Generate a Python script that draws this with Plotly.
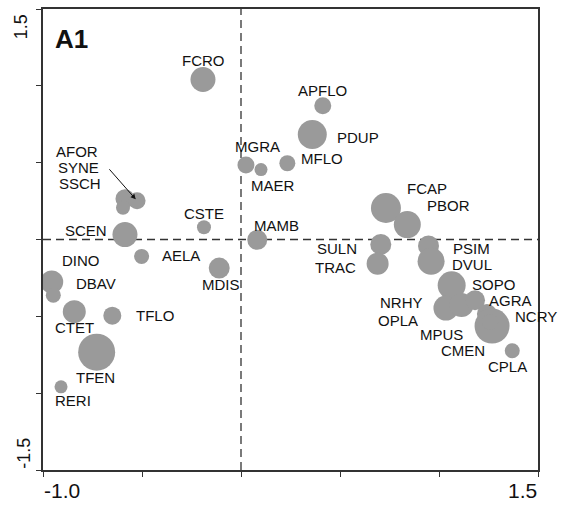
import plotly.graph_objects as go

# ---- data (ordination scores) ----
species = ["FCRO", "APFLO", "PDUP", "MGRA", "MAER", "MFLO", "CSTE", "MAMB", "MDIS",
           "AFOR", "SYNE", "SSCH", "SCEN", "AELA", "DINO", "DBAV", "CTET", "TFLO",
           "TFEN", "RERI", "FCAP", "PBOR", "SULN", "TRAC", "PSIM", "DVUL", "SOPO",
           "NRHY", "OPLA", "AGRA", "MPUS", "NCRY", "CMEN", "CPLA"]
axis1 = [-0.192, 0.413, 0.360, 0.025, 0.101, 0.234, -0.187, 0.082, -0.110,
         -0.586, -0.525, -0.596, -0.586, -0.502, -0.956, -0.948, -0.842, -0.650,
         -0.729, -0.909, 0.732, 0.840, 0.706, 0.690, 0.947, 0.960, 1.064,
         1.035, 1.114, 1.182, 1.242, 1.268, 1.258, 1.370]
axis2 = [1.041, 0.871, 0.684, 0.485, 0.455, 0.496, 0.080, -0.002, -0.186,
         0.265, 0.252, 0.207, 0.032, -0.110, -0.276, -0.362, -0.470, -0.496,
         -0.733, -0.959, 0.205, 0.097, -0.032, -0.157, -0.042, -0.142, -0.298,
         -0.446, -0.427, -0.395, -0.485, -0.563, -0.537, -0.724]
abundance = [25, 17, 29, 17, 13, 16, 14, 20, 21,
             19, 17, 14, 25, 15, 23, 15, 23, 18,
             37, 13, 30, 27, 21, 22, 21, 27, 28,
             25, 24, 20, 20, 35, 16, 15]
x_ticks = [-1.0, -0.5, 0.0, 0.5, 1.0, 1.5]
y_ticks = [-1.5, -1.0, -0.5, 0.0, 0.5, 1.0, 1.5]
x_end_labels = ["-1.0", "1.5"]
y_end_labels = ["-1.5", "1.5"]
panel_label = "A1"

# ---- label placement offsets (pixels, relative to the bubble) ----
label_dx = [1, 0, 46, 12, 12, 35, 0, 19, 2,
            -48, -59, -43, -39, 39, 29, 43, 0, 43,
            -1, 12, 41, 41, -44, -42, 43, 41, 42,
            -44, -64, 35, -45, 44, -27, -5]
label_dy = [-19, -15, 3, -18, 16, -5, -14, -14, 16,
            -47, -33, -24, -4, -1, -21, -12, 16, 0,
            25, 14, -20, -19, 4, 4, 3, 3, -1,
            -6, 15, 0, 20, -10, 28, 16]

FONT = "Liberation Sans, Arial, sans-serif"
AX = "#333333"

fig = go.Figure()
fig.add_trace(go.Scatter(
    x=axis1, y=axis2, mode="markers",
    marker=dict(size=abundance, sizemode="diameter", sizeref=1,
                color="#9a9a9a", line=dict(width=0), opacity=1),
    hoverinfo="text", text=species, showlegend=False))

annotations = []
for name, xv, yv, dx, dy in zip(species, axis1, axis2, label_dx, label_dy):
    annotations.append(dict(x=xv, y=yv, xref="x", yref="y", text=name,
                            showarrow=False, xshift=dx, yshift=-dy, borderpad=0,
                            font=dict(family=FONT, size=15, color="#111111")))

# arrow from the AFOR/SYNE/SSCH label stack to the cluster
i = species.index("SYNE")
annotations.append(dict(x=axis1[i], y=axis2[i], xref="x", yref="y", text="",
                        showarrow=True, ax=-29, ay=-33, arrowhead=2, arrowsize=1,
                        arrowwidth=1, arrowcolor="#111111", standoff=2))

# panel label
annotations.append(dict(x=0.02, y=0.935, xref="paper", yref="paper", text="<b>%s</b>" % panel_label,
                        showarrow=False, xanchor="left", yanchor="middle",
                        font=dict(family=FONT, size=26, color="#111111")))

# end tick labels (justified inward, as in the original)
annotations.append(dict(x=0, y=-0.045, xref="paper", yref="paper", text=x_end_labels[0],
                        showarrow=False, xanchor="left", yanchor="middle", borderpad=0,
                        font=dict(family=FONT, size=21, color="#111111")))
annotations.append(dict(x=1.0, y=-0.045, xref="paper", yref="paper", text=x_end_labels[1],
                        showarrow=False, xanchor="right", yanchor="middle", borderpad=0,
                        font=dict(family=FONT, size=21, color="#111111")))
annotations.append(dict(x=-0.04, y=0, xref="paper", yref="paper", text=y_end_labels[0],
                        showarrow=False, textangle=-90, xanchor="center", yanchor="bottom",
                        borderpad=0, font=dict(family=FONT, size=18, color="#111111")))
annotations.append(dict(x=-0.044, y=0.99, xref="paper", yref="paper", text=y_end_labels[1],
                        showarrow=False, textangle=-90, xanchor="center", yanchor="top",
                        borderpad=0, font=dict(family=FONT, size=18, color="#111111")))

shapes = [
    dict(type="line", xref="x", yref="paper", x0=0, x1=0, y0=0, y1=1,
         line=dict(color=AX, width=1.3, dash="8px,5px"), layer="below"),
    dict(type="line", xref="paper", yref="y", x0=0, x1=1, y0=0, y1=0,
         line=dict(color=AX, width=1.3, dash="8px,5px"), layer="below"),
]

fig.update_layout(
    width=570, height=507,
    margin=dict(l=43, r=32, t=7, b=37),
    paper_bgcolor="white", plot_bgcolor="white",
    annotations=annotations, shapes=shapes,
    xaxis=dict(range=[-1.0, 1.5], tickvals=x_ticks, showticklabels=False,
               ticks="outside", ticklen=5, tickcolor=AX, tickwidth=1.3,
               showline=True, linecolor=AX, linewidth=1.5, mirror=True,
               showgrid=False, zeroline=False, fixedrange=True),
    yaxis=dict(range=[-1.5, 1.5], tickvals=y_ticks, showticklabels=False,
               ticks="outside", ticklen=5, tickcolor=AX, tickwidth=1.3,
               showline=True, linecolor=AX, linewidth=1.5, mirror=True,
               showgrid=False, zeroline=False, fixedrange=True),
)

fig.write_html("out.html")
